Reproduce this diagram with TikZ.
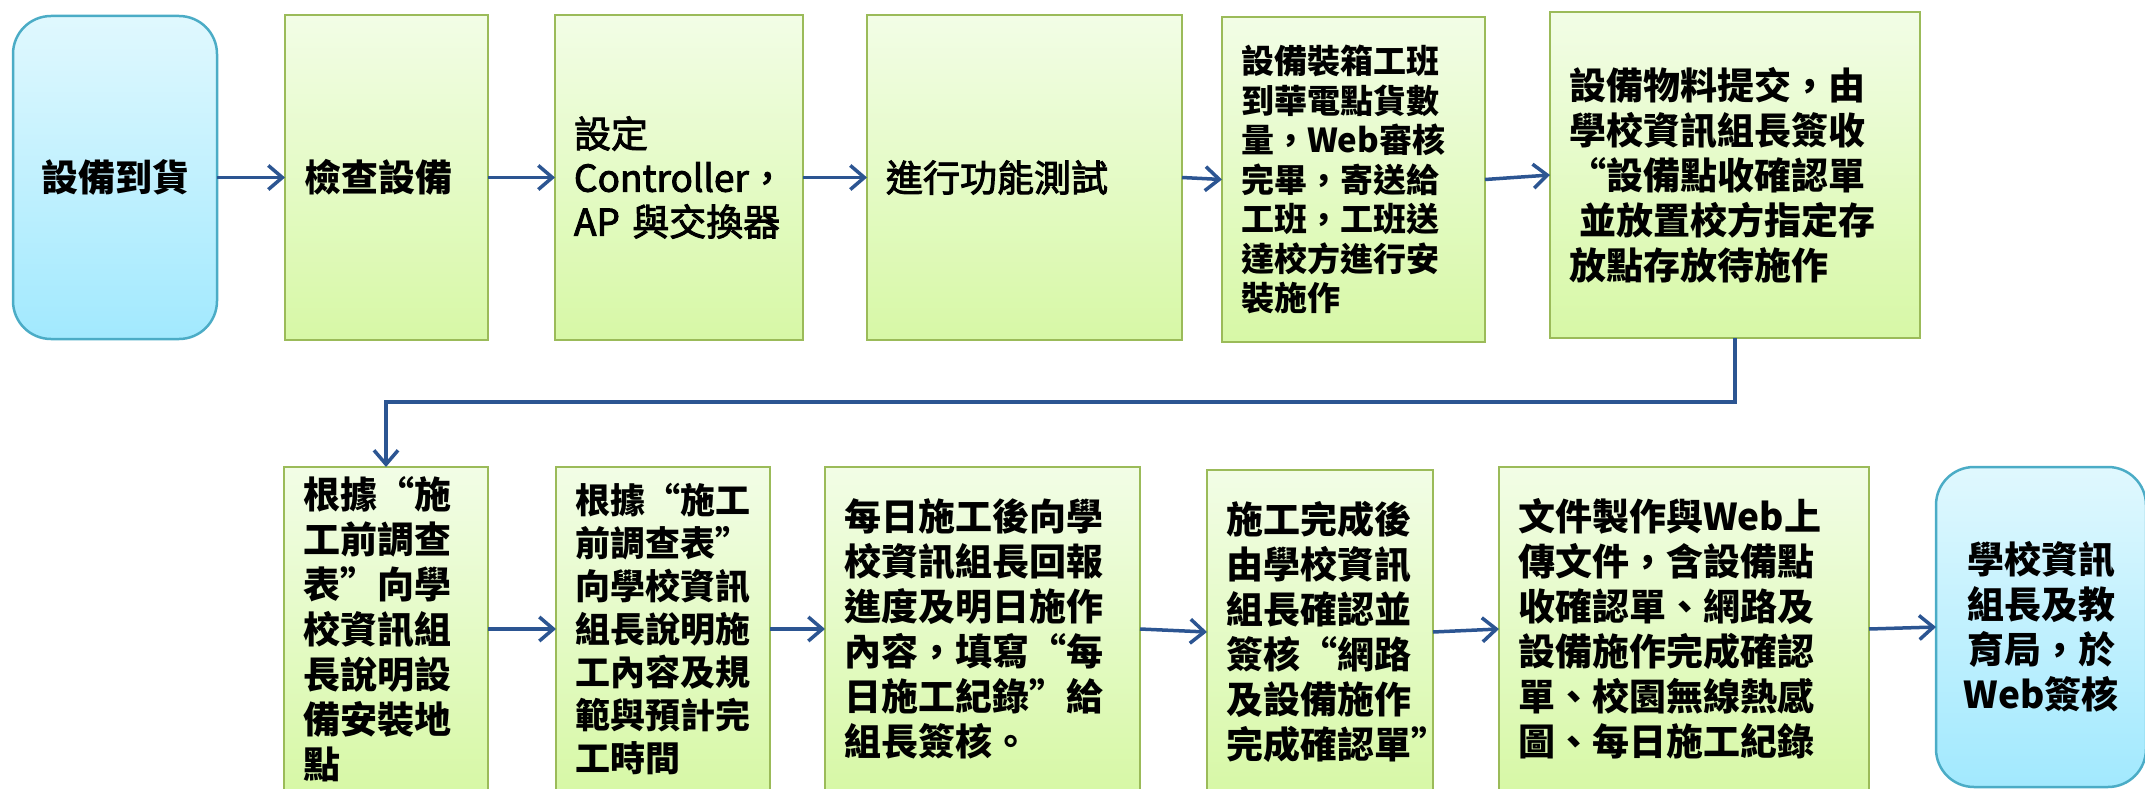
\documentclass[tikz,border=0pt]{standalone}
\usepackage{fontspec}
\setmainfont{Noto Sans CJK TC}
\newfontfamily\medfont{Noto Sans CJK TC}[FakeBold=2.5]
\usetikzlibrary{arrows.meta}
\definecolor{gtop}{HTML}{F2FDE6}
\definecolor{gbot}{HTML}{D7F8A6}
\definecolor{gline}{HTML}{9BBB59}
\definecolor{btop}{HTML}{E0F8FE}
\definecolor{bbot}{HTML}{A2E9FE}
\definecolor{bline}{HTML}{4BACC6}
\definecolor{arrc}{HTML}{2C5592}
\newcommand\Lq{\makebox[1em][r]{“}}
\newcommand\Rq{\makebox[1em][l]{”}}
\newcommand\Rqe{\makebox[0.4em][l]{”}}
\begin{document}
\begin{tikzpicture}[x=1pt,y=-1pt,
  box/.style={line width=2pt, inner xsep=19pt, inner ysep=0pt, outer sep=0pt,
    align=left, anchor=north west, font=\bfseries\fontsize{37}{45}\selectfont},
  gbox/.style={box, draw=gline, top color=gtop, bottom color=gbot},
  bbox/.style={box, draw=bline, top color=btop, bottom color=bbot,
    rounded corners=38pt, line width=2.5pt},
  arr/.style={draw=arrc, line width=3.5pt, -{Straight Barb[length=14pt,width=24pt]}}
]
\useasboundingbox (0,0) rectangle (2145,789);
% row 1
\node[bbox, align=center, text width=166pt, minimum height=323pt] (b1) at (13,16) {設備到貨};
\node[gbox, text width=165pt, minimum height=325pt] (b2) at (285,15) {檢查設備};
\node[gbox, text width=210pt, minimum height=325pt, font=\medfont\fontsize{37}{44}\selectfont] (b3) at (555,15)
  {設定\\Controller，\\AP 與交換器};
\node[gbox, text width=277pt, minimum height=325pt, font=\medfont\fontsize{37}{44}\selectfont] (b4) at (867,15)
  {進行功能測試};
\node[gbox, text width=225pt, minimum height=325pt, font=\bfseries\fontsize{33}{39.5}\selectfont] (b5) at (1222,17)
  {設備裝箱工班\\到華電點貨數\\量，Web審核\\完畢，寄送給\\工班，工班送\\達校方進行安\\裝施作};
\node[gbox, text width=332pt, minimum height=326pt] (b6) at (1550,12)
  {設備物料提交，由\\學校資訊組長簽收\\\Lq 設備點收確認單\\\hspace*{0.27em}並放置校方指定存\\放點存放待施作};
% row 2
\node[gbox, text width=166pt, minimum height=324pt] (b7) at (284,467)
  {根據\Lq 施\\工前調查\\表\Rq 向學\\校資訊組\\長說明設\\備安裝地\\點};
\node[gbox, text width=176pt, minimum height=324pt, font=\bfseries\fontsize{35}{43}\selectfont] (b8) at (556,467)
  {根據\Lq 施工\\前調查表\Rqe\\向學校資訊\\組長說明施\\工內容及規\\範與預計完\\工時間};
\node[gbox, text width=277pt, minimum height=324pt] (b9) at (825,467)
  {每日施工後向學\\校資訊組長回報\\進度及明日施作\\內容，填寫\Lq 每\\日施工紀錄\Rq 給\\組長簽核。};
\node[gbox, text width=188pt, minimum height=324pt] (b10) at (1207,470)
  {施工完成後\\由學校資訊\\組長確認並\\簽核\Lq 網路\\及設備施作\\完成確認單\Rqe};
\node[gbox, text width=332pt, minimum height=324pt] (b11) at (1499,467)
  {文件製作與Web上\\傳文件，含設備點\\收確認單、網路及\\設備施作完成確認\\單、校園無線熱感\\圖、每日施工紀錄};
\node[bbox, align=center, text width=172pt, minimum height=320pt] (b12) at (1936,467)
  {學校資訊\\組長及教\\育局，於\\Web簽核};
% connectors
\draw[arr] (b1.east) -- (b2.west);
\draw[arr] (b2.east) -- (b3.west);
\draw[arr] (b3.east) -- (b4.west);
\draw[arr] (b4.east) -- (b5.west);
\draw[arr] (b5.east) -- (b6.west);
\coordinate (turn) at (1735,402);
\draw[arr] (b6.south) -- (b6.south |- turn) -| (b7.north);
\draw[arr] (b7.east) -- (b8.west);
\draw[arr] (b8.east) -- (b9.west);
\draw[arr] (b9.east) -- (b10.west);
\draw[arr] (b10.east) -- (b11.west);
\draw[arr] (b11.east) -- (b12.west);
\end{tikzpicture}
\end{document}
